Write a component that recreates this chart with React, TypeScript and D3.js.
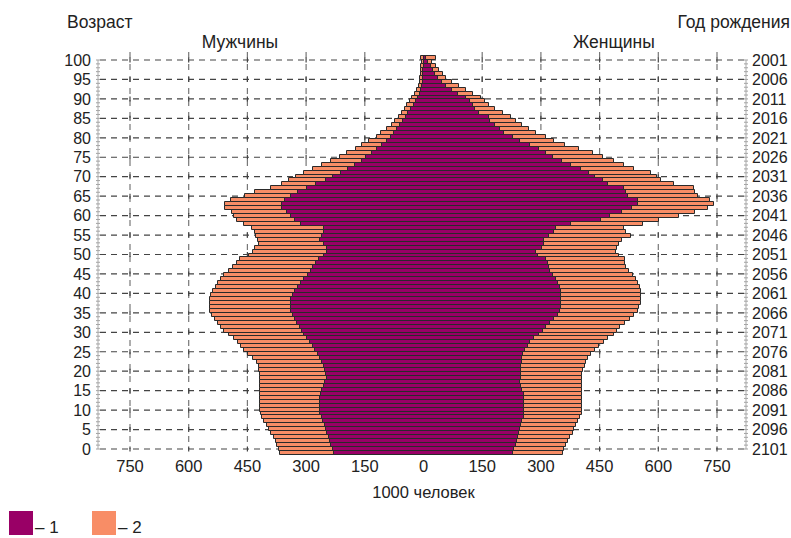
import React from 'react';
import * as d3 from 'd3';

// Population by single year of age (thousands), index = age 0..100
const ages = d3.range(0, 101);

// 2 - total (outer, orange)
const maleTotal = [
  369, 372, 376, 380, 385, 391, 397, 403, 409, 414,
  418, 420, 420, 420, 420, 420, 420, 420, 420, 420,
  421, 422, 423, 428, 438, 450, 460, 469, 477, 488,
  500, 512, 520, 528, 536, 543, 547, 548, 549, 548,
  546, 540, 534, 528, 521, 512, 500, 490, 478, 472,
  448, 438, 432, 424, 426, 430, 434, 440, 462, 478,
  486, 492, 511, 510, 494, 458, 434, 392, 365, 346,
  328, 308, 286, 262, 238, 217, 198, 176, 160, 142,
  122, 112, 96, 84, 76, 66, 58, 50, 45, 38,
  33, 25, 18, 14, 12, 11, 10, 9, 8, 7,
  9,
];
const femaleTotal = [
  353, 356, 361, 366, 372, 379, 383, 387, 392, 398,
  403, 403, 403, 403, 403, 403, 403, 403, 403, 403,
  403, 406, 409, 413, 419, 426, 436, 446, 458, 470,
  485, 492, 500, 512, 525, 536, 545, 549, 553, 553,
  553, 552, 550, 546, 540, 532, 523, 516, 512, 512,
  496, 490, 492, 496, 505, 528, 515, 511, 558, 600,
  650, 690, 725, 741, 730, 700, 692, 688, 638, 605,
  595, 580, 536, 510, 485, 455, 430, 395, 360, 330,
  310, 285, 268, 250, 235, 221, 200, 180, 165, 155,
  144, 125, 105, 88, 70, 55, 46, 38, 30, 18,
  29,
];

// 1 - inner series (purple)
const maleInner = [
  232, 235, 239, 242, 245, 249, 252, 255, 259, 263,
  266, 266, 266, 266, 266, 265, 262, 258, 255, 250,
  252, 255, 258, 262, 267, 273, 280, 286, 293, 300,
  307, 312, 318, 325, 331, 337, 340, 341, 341, 340,
  337, 331, 324, 316, 308, 298, 291, 284, 277, 269,
  256, 250, 250, 258, 266, 262, 258, 256, 315, 330,
  340, 352, 365, 363, 356, 341, 324, 300, 276, 252,
  235, 214, 195, 178, 160, 150, 135, 122, 108, 95,
  86, 78, 70, 62, 55, 48, 43, 35, 28, 22,
  17, 11, 8, 6, 5, 4, 3, 3, 2, 2,
  1,
];
const femaleInner = [
  225, 229, 233, 236, 239, 242, 245, 247, 250, 253,
  255, 255, 255, 255, 255, 254, 250, 247, 245, 246,
  247, 247, 247, 248, 249, 251, 258, 264, 270, 280,
  292, 302, 310, 320, 330, 340, 346, 349, 349, 349,
  349, 348, 346, 342, 336, 328, 320, 317, 315, 310,
  290, 285, 300, 306, 306, 318, 330, 335, 374, 450,
  475, 505, 530, 545, 545, 520, 515, 510, 470, 455,
  435, 420, 400, 375, 352, 328, 310, 292, 270, 245,
  225, 204, 193, 180, 168, 165, 140, 130, 124, 115,
  106, 85, 70, 55, 45, 35, 28, 22, 17, 10,
  3,
];

const ageTicks = [0, 5, 10, 15, 20, 25, 30, 35, 40, 45, 50, 55, 60, 65, 70, 75, 80, 85, 90, 95, 100];
const yearLabels = ['2101', '2096', '2091', '2086', '2081', '2076', '2071', '2066', '2061', '2056', '2051',
  '2046', '2041', '2036', '2031', '2026', '2021', '2016', '2011', '2006', '2001'];
const xTicks = [-750, -600, -450, -300, -150, 0, 150, 300, 450, 600, 750];

const PURPLE = '#990066';
const ORANGE = '#f88d66';
const EDGE = '#2a2a2a';
const FONT = "'Liberation Sans', Arial, sans-serif";

const App: React.FC = () => {
  const width = 791;
  const height = 538;

  const x = d3.scaleLinear().domain([-750, 750]).range([130, 717]);
  const y = d3.scaleLinear().domain([0, 100]).range([449, 60]);
  const band = d3.scaleBand<number>().domain(ages).range([454, 55]);
  const bh = band.bandwidth();
  const x0 = Math.round(x(0));

  const leftRuler = 98;
  const rightRuler = 746;

  // bar drawn as an open path: top, outer side and bottom are stroked, the centre edge is not
  const bar = (age: number, v: number, side: number, fill: string, key: string) => {
    const top = Math.round(band(age) as number) + 0.5;
    const bottom = Math.round((band(age) as number) + bh) + 0.5;
    const xe = Math.round(x(side * v)) + 0.5;
    const d = `M${x0},${top}H${xe}V${bottom}H${x0}`;
    return <path key={key} d={d} fill={fill} stroke={EDGE} strokeWidth={1} />;
  };

  return (
    <div style={{ position: 'absolute', left: 0, top: 0 }}>
      <svg width={width} height={height} style={{ display: 'block', background: '#fff' }} fontFamily={FONT}>
        {/* vertical dashed grid */}
        {xTicks.filter(t => t !== 0).map(t => (
          <line key={'vx' + t} x1={x(t)} x2={x(t)} y1={52} y2={y(0)}
            stroke="#777" strokeWidth={1.2} strokeDasharray="6,6" />
        ))}
        {/* horizontal dashed grid */}
        {ageTicks.map(a => (
          <line key={'hy' + a} x1={leftRuler + 2} x2={rightRuler - 2} y1={y(a)} y2={y(a)}
            stroke="#444" strokeWidth={1.2} strokeDasharray="6,5" />
        ))}
        {/* small crosses at intersections */}
        {ageTicks.map(a => xTicks.filter(t => t !== 0).map(t => (
          <line key={'c' + a + '_' + t} x1={x(t)} x2={x(t)} y1={y(a) - 2.5} y2={y(a) + 2.5}
            stroke="#444" strokeWidth={1.2} />
        )))}

        {/* total (2) */}
        {ages.map(a => bar(a, maleTotal[a], -1, ORANGE, 'mt' + a))}
        {ages.map(a => bar(a, femaleTotal[a], 1, ORANGE, 'ft' + a))}
        {/* inner (1) */}
        {ages.map(a => bar(a, maleInner[a], -1, PURPLE, 'mi' + a))}
        {ages.map(a => bar(a, femaleInner[a], 1, PURPLE, 'fi' + a))}

        {/* rulers with one-year ticks */}
        {ages.map(a => (
          <g key={'r' + a}>
            <line x1={leftRuler - 2} x2={leftRuler + 2} y1={y(a)} y2={y(a)} stroke="#888" strokeWidth={0.8} />
            <line x1={rightRuler - 2} x2={rightRuler + 2} y1={y(a)} y2={y(a)} stroke="#888" strokeWidth={0.8} />
          </g>
        ))}
        <line x1={leftRuler} x2={leftRuler} y1={y(100)} y2={y(0)} stroke="#aaa" strokeWidth={1} />
        <line x1={rightRuler} x2={rightRuler} y1={y(100)} y2={y(0)} stroke="#aaa" strokeWidth={1} />

        {/* age labels */}
        {ageTicks.map(a => (
          <text key={'al' + a} x={91} y={y(a)} dy="0.36em" textAnchor="end" fontSize={16} fill="#222">{a}</text>
        ))}
        {/* birth year labels */}
        {ageTicks.map((a, i) => (
          <text key={'yl' + a} x={752} y={y(a)} dy="0.36em" textAnchor="start" fontSize={16} fill="#222">{yearLabels[i]}</text>
        ))}
        {/* x tick labels */}
        {xTicks.map(t => (
          <text key={'xl' + t} x={x(t)} y={466} dy="0.36em" textAnchor="middle" fontSize={16.5} fill="#222">{Math.abs(t)}</text>
        ))}

        <text x={67} y={28} fontSize={17.5} fill="#222">Возраст</text>
        <text x={790} y={28} fontSize={17.5} fill="#222" textAnchor="end">Год рождения</text>
        <text x={240} y={48} fontSize={17.5} fill="#222" textAnchor="middle">Мужчины</text>
        <text x={614} y={48} fontSize={17.5} fill="#222" textAnchor="middle">Женщины</text>
        <text x={x(0)} y={498} fontSize={16.5} fill="#222" textAnchor="middle">1000 человек</text>

        {/* legend */}
        <rect x={9} y={511} width={24} height={24} fill={PURPLE} />
        <text x={35} y={533} fontSize={17} fill="#222">– 1</text>
        <rect x={92} y={511} width={24} height={24} fill={ORANGE} />
        <text x={118} y={533} fontSize={17} fill="#222">– 2</text>
      </svg>
    </div>
  );
};

export default App;
